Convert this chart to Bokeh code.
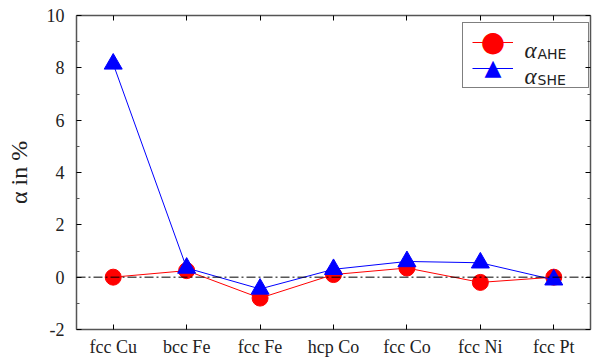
from bokeh.plotting import figure
from bokeh.models import (FactorRange, Range1d, LinearAxis, CategoricalAxis, Span,
                          Legend, LegendItem, Label, FixedTicker, ColumnDataSource)
from bokeh.embed import file_html
from bokeh.resources import INLINE

materials = ["fcc Cu", "bcc Fe", "fcc Fe", "hcp Co", "fcc Co", "fcc Ni", "fcc Pt"]
alpha_ahe = [0.0, 0.25, -0.8, 0.1, 0.35, -0.2, 0.0]
alpha_she = [8.15, 0.35, -0.45, 0.3, 0.6, 0.55, -0.1]
y_ticks = [-2, 0, 2, 4, 6, 8, 10]
y_minor = [-1, 1, 3, 5, 7, 9]

SERIF = "Liberation Serif"
AXC = "#555555"
RED = "#ff0000"
BLUE = "#0000ff"

src = ColumnDataSource(dict(x=materials, ahe=alpha_ahe, she=alpha_she))

p = figure(width=597, height=360, x_range=FactorRange(*materials), y_range=Range1d(-2, 10),
           output_backend="svg", toolbar_location=None,
           min_border_left=76, min_border_right=7, min_border_top=15, min_border_bottom=31)
p.outline_line_color = None
p.xgrid.visible = False
p.ygrid.visible = False

zero = Span(location=0, dimension="width", line_color="black", line_width=1,
            line_dash="9 3 2 3")
p.add_layout(zero)

l1 = p.line("x", "ahe", source=src, line_color=RED, line_width=1)
m1 = p.scatter("x", "ahe", source=src, marker="circle", size=16,
               fill_color=RED, line_color=RED)
l2 = p.line("x", "she", source=src, line_color=BLUE, line_width=1)
m2 = p.scatter("x", "she", source=src, marker="triangle", size=18,
               fill_color=BLUE, line_color=BLUE)

def style_axis(ax, labels=True):
    ax.axis_line_color = AXC
    ax.axis_line_width = 1.5
    ax.major_tick_line_color = "black"
    ax.major_tick_in = 5
    ax.major_tick_out = 0
    ax.minor_tick_line_color = AXC
    ax.minor_tick_in = 3
    ax.minor_tick_out = 0
    ax.major_label_text_font = SERIF
    ax.major_label_text_font_size = "18px"
    ax.major_label_text_color = "#222222"
    if not labels:
        ax.major_label_text_font_size = "0px"
        ax.major_label_text_color = None

yax = p.yaxis[0]
yax.ticker = FixedTicker(ticks=y_ticks, minor_ticks=y_minor)
style_axis(yax)
yax.major_label_overrides = {t: str(t) for t in y_ticks}
yax.major_label_standoff = 12
yax.axis_label = "α in %"
yax.axis_label_text_font = SERIF
yax.axis_label_text_font_size = "24px"
yax.axis_label_text_font_style = "normal"
yax.axis_label_text_color = "#222222"
yax.axis_label_standoff = 12

xax = p.xaxis[0]
style_axis(xax)
xax.major_label_standoff = 7

rax = LinearAxis(ticker=FixedTicker(ticks=y_ticks, minor_ticks=y_minor))
style_axis(rax, labels=False)
p.add_layout(rax, "right")

tax = CategoricalAxis()
style_axis(tax, labels=False)
p.add_layout(tax, "above")

leg = Legend(items=[LegendItem(label=" ", renderers=[l1]),
                    LegendItem(label=" ", renderers=[l2])],
             location=(386, 241), border_line_color="black", border_line_width=1,
             padding=9, glyph_width=41, glyph_height=20, label_standoff=10,
             label_width=56, label_height=20, spacing=6, label_text_font=SERIF,
             label_text_font_size="2px", background_fill_alpha=0)
p.add_layout(leg)

# legend marker symbols and labels (screen units relative to the frame)
p.add_layout(Label(x=416.5, y=288, x_units="screen", y_units="screen", text="●",
                   text_font="DejaVu Sans", text_font_size="28px", text_color=RED,
                   text_align="center", text_baseline="middle", level="overlay"))
p.add_layout(Label(x=416.5, y=262.5, x_units="screen", y_units="screen", text="▲",
                   text_font="DejaVu Sans", text_font_size="22px", text_color=BLUE,
                   text_align="center", text_baseline="middle", level="overlay"))

p.add_layout(Label(x=448, y=279, x_units="screen", y_units="screen", text="α",
                   text_font=SERIF, text_font_style="italic", text_font_size="23px",
                   text_color="#222222", text_baseline="alphabetic", level="overlay"))
p.add_layout(Label(x=448, y=253, x_units="screen", y_units="screen", text="α",
                   text_font=SERIF, text_font_style="italic", text_font_size="23px",
                   text_color="#222222", text_baseline="alphabetic", level="overlay"))
p.add_layout(Label(x=461, y=276, x_units="screen", y_units="screen", text="AHE",
                   text_font="DejaVu Sans", text_font_size="14px", text_color="#222222",
                   text_baseline="alphabetic", level="overlay"))
p.add_layout(Label(x=461, y=250, x_units="screen", y_units="screen", text="SHE",
                   text_font="DejaVu Sans", text_font_size="14px", text_color="#222222",
                   text_baseline="alphabetic", level="overlay"))

open("out.html", "w").write(file_html(p, INLINE))
